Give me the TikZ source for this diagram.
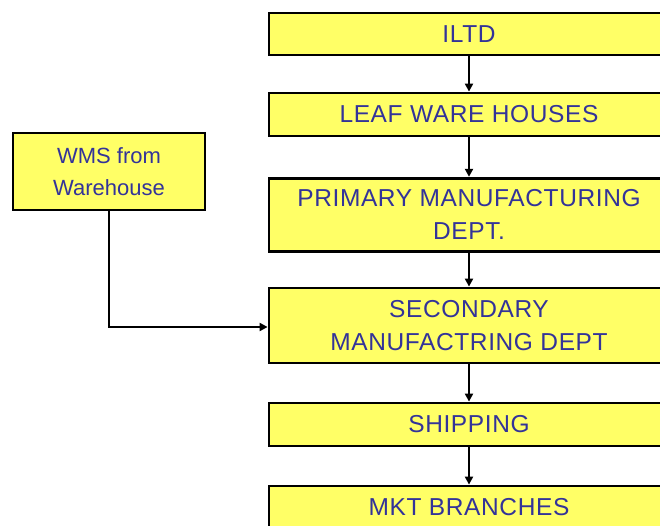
\documentclass[tikz,border=0pt]{standalone}
\usepackage{fontspec}
\setmainfont{Liberation Sans}
\newfontfamily\boxfont[LetterSpace=2.5]{Liberation Sans}
\usetikzlibrary{arrows.meta}
\definecolor{boxfill}{HTML}{FFFF66}
\definecolor{boxtext}{HTML}{333399}
\tikzset{
  flowbox/.style={draw=black, fill=boxfill, line width=2.8pt, text=boxtext,
    align=center, inner sep=0pt, minimum width=400pt,
    font=\boxfont\fontsize{24.5}{33}\selectfont},
  sidebox/.style={draw=black, fill=boxfill, line width=2.8pt, text=boxtext,
    align=center, inner sep=0pt, minimum width=192pt, minimum height=77pt,
    font=\fontsize{22}{32}\selectfont},
  link/.style={draw=black, line width=2pt, -{Triangle[length=8pt,width=8pt]}}
}
\begin{document}
\begin{tikzpicture}[x=1pt, y=-1pt]
\useasboundingbox (0,0) rectangle (660,526);
\clip (0,0) rectangle (660,526);
\fill[white] (0,0) rectangle (660,526);
\node[flowbox, minimum height=42pt] (iltd) at (469,34) {ILTD};
\node[flowbox, minimum height=43pt] (leaf) at (469,114.5) {LEAF WARE HOUSES};
\node[flowbox, minimum height=73pt] (prim) at (469,214.7) {PRIMARY MANUFACTURING\\DEPT.};
\node[flowbox, minimum height=75pt] (sec) at (469,325.5) {SECONDARY\\MANUFACTRING DEPT};
\node[flowbox, minimum height=43pt] (ship) at (469,424.5) {SHIPPING};
\node[flowbox, minimum height=43pt] (mkt) at (469,507.5) {MKT BRANCHES};
\node[sidebox] (wms) at (109,171.5) {WMS from\\Warehouse};
\draw[link] (iltd) -- (leaf);
\draw[link] (leaf) -- (prim);
\draw[link] (prim) -- (sec);
\draw[link] (sec) -- (ship);
\draw[link] (ship) -- (mkt);
\draw[link] (wms.south) |- ([yshift=-1.5pt]sec.west);
\end{tikzpicture}
\end{document}
